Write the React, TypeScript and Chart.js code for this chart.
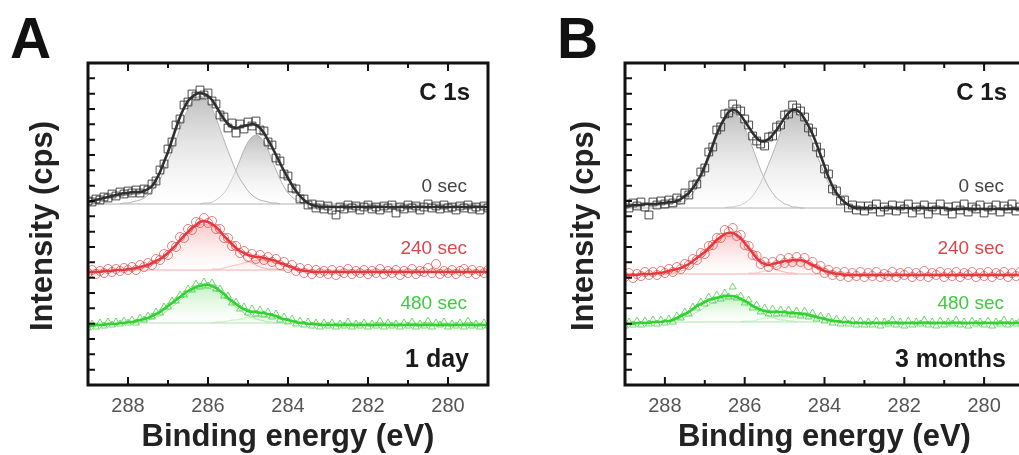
import { useEffect, useRef } from "react";
import { Chart, registerables } from "chart.js";

Chart.register(...registerables);

// ---------- axis data ----------
const ENERGY = [
  289.0, 288.9, 288.8, 288.7, 288.6, 288.5, 288.4, 288.3, 288.2, 288.1,
  288.0, 287.9, 287.8, 287.7, 287.6, 287.5, 287.4, 287.3, 287.2, 287.1,
  287.0, 286.9, 286.8, 286.7, 286.6, 286.5, 286.4, 286.3, 286.2, 286.1,
  286.0, 285.9, 285.8, 285.7, 285.6, 285.5, 285.4, 285.3, 285.2, 285.1,
  285.0, 284.9, 284.8, 284.7, 284.6, 284.5, 284.4, 284.3, 284.2, 284.1,
  284.0, 283.9, 283.8, 283.7, 283.6, 283.5, 283.4, 283.3, 283.2, 283.1,
  283.0, 282.9, 282.8, 282.7, 282.6, 282.5, 282.4, 282.3, 282.2, 282.1,
  282.0, 281.9, 281.8, 281.7, 281.6, 281.5, 281.4, 281.3, 281.2, 281.1,
  281.0, 280.9, 280.8, 280.7, 280.6, 280.5, 280.4, 280.3, 280.2, 280.1,
  280.0, 279.9, 279.8, 279.7, 279.6, 279.5, 279.4, 279.3, 279.2, 279.1,
  279.0,
];
const X_MIN = 279;
const X_MAX = 289;
const X_TICKS_MAJOR = [288, 286, 284, 282, 280];
const X_TICKS_MINOR = [287, 285, 283, 281, 279];
const X_TICK_LABELS = ["288", "286", "284", "282", "280"];
const Y_MIN = 0;
const Y_MAX = 322;
const Y_TICK_COUNT = 21;

// ---------- panel A (1 day) ----------
const A_0S = [
  184, 183, 186, 185, 188, 187, 191, 189, 193, 191,
  194, 192, 195, 192, 196, 195, 201, 204, 215, 221,
  236, 243, 260, 266, 280, 283, 291, 289, 295, 290,
  292, 284, 281, 270, 268, 257, 262, 252, 261, 256,
  263, 259, 264, 255, 254, 243, 240, 227, 224, 211,
  209, 197, 196, 186, 186, 180, 181, 177, 180, 176,
  179, 175, 170, 178, 176, 180, 177, 179, 175, 178,
  180, 176, 178, 175, 179, 177, 180, 172, 178, 176,
  180, 177, 179, 175, 178, 181, 177, 179, 176, 180,
  177, 178, 175, 179, 177, 180, 176, 178, 175, 179,
  177,
];
const A_0S_FIT = [
  183, 184, 185, 186, 187, 188, 189, 190, 191, 192,
  192, 193, 193, 193, 194, 196, 199, 205, 213, 223,
  233, 245, 257, 268, 277, 284, 288, 291, 292, 291,
  289, 285, 279, 272, 266, 261, 258, 257, 258, 259,
  260, 261, 260, 257, 252, 245, 238, 230, 222, 214,
  207, 200, 194, 189, 185, 182, 180, 179, 178, 178,
  178, 178, 178, 178, 178, 178, 178, 178, 178, 178,
  178, 178, 178, 178, 178, 178, 178, 178, 178, 178,
  178, 178, 178, 178, 178, 178, 178, 178, 178, 178,
  178, 178, 178, 178, 178, 178, 178, 178, 178, 178,
  178,
];
const A_0S_BASE = 181;
const A_0S_C1_FROM = 288.2;
const A_0S_C1 = [181, 182, 182, 183, 184, 185, 187, 190, 194, 200, 206, 214, 224, 234, 245, 256, 267, 276, 283, 287, 289, 287, 283, 276, 267, 256, 245, 234, 224, 214, 206, 200, 194, 190, 187, 185, 184, 183, 182, 182, 181];
const A_0S_C2_FROM = 286.2;
const A_0S_C2 = [181, 182, 182, 183, 185, 188, 192, 198, 206, 215, 225, 235, 243, 248, 250, 248, 243, 235, 225, 215, 206, 198, 192, 188, 185, 183, 182, 182, 181];

const A_240S = [
  112, 115, 111, 114, 112, 116, 113, 116, 114, 117,
  115, 118, 115, 120, 118, 122, 120, 126, 125, 131,
  130, 139, 138, 148, 147, 156, 155, 163, 162, 167,
  162, 164, 156, 156, 147, 147, 139, 139, 132, 134,
  128, 131, 126, 130, 125, 128, 123, 126, 120, 123,
  117, 120, 114, 117, 112, 116, 111, 115, 112, 114,
  111, 115, 110, 114, 112, 116, 111, 114, 112, 115,
  111, 114, 112, 116, 111, 114, 112, 115, 110, 114,
  112, 116, 111, 114, 113, 117, 112, 121, 111, 114,
  112, 115, 111, 114, 116, 112, 115, 111, 114, 112,
  115,
];
const A_240S_FIT = [
  113, 113, 113, 113, 114, 114, 114, 115, 115, 115,
  116, 116, 117, 118, 119, 120, 122, 124, 126, 129,
  132, 136, 140, 145, 149, 153, 157, 160, 163, 164,
  163, 161, 158, 154, 149, 145, 141, 137, 134, 132,
  130, 129, 128, 128, 127, 126, 125, 124, 122, 121,
  119, 118, 116, 115, 114, 114, 113, 113, 113, 113,
  113, 113, 113, 113, 113, 113, 113, 113, 113, 113,
  113, 113, 113, 113, 113, 113, 113, 113, 113, 113,
  113, 113, 113, 113, 113, 113, 113, 113, 113, 113,
  113, 113, 113, 113, 113, 113, 113, 113, 113, 113,
  113,
];
const A_240S_BASE = 115;
const A_240S_C1_FROM = 288.1;
const A_240S_C1 = [115, 115, 116, 116, 116, 117, 118, 120, 122, 124, 127, 131, 135, 139, 143, 148, 152, 156, 159, 160, 161, 160, 159, 156, 152, 148, 143, 139, 135, 131, 127, 124, 122, 120, 118, 117, 116, 116, 116, 115, 115];
const A_240S_C2_FROM = 285.9;
const A_240S_C2 = [116, 116, 116, 117, 118, 119, 120, 121, 122, 123, 124, 125, 125, 125, 124, 123, 122, 121, 120, 119, 118, 117, 116, 116, 116];

const A_480S = [
  57, 61, 58, 62, 59, 63, 60, 63, 61, 64,
  62, 65, 62, 67, 65, 69, 68, 73, 72, 78,
  78, 84, 84, 90, 90, 96, 95, 101, 98, 103,
  99, 102, 96, 96, 89, 89, 82, 83, 76, 78,
  72, 76, 71, 75, 70, 73, 68, 71, 65, 68,
  63, 66, 61, 64, 60, 63, 59, 62, 58, 62,
  59, 62, 58, 61, 59, 63, 58, 61, 59, 62,
  58, 61, 59, 64, 58, 62, 59, 61, 58, 62,
  59, 63, 58, 61, 59, 64, 58, 62, 60, 63,
  58, 61, 59, 62, 58, 64, 59, 61, 58, 62,
  59,
];
const A_480S_FIT = [
  59, 59, 60, 60, 60, 61, 61, 61, 62, 62,
  63, 63, 64, 65, 66, 67, 69, 71, 73, 76,
  79, 82, 85, 88, 91, 94, 96, 98, 99, 100,
  100, 99, 97, 94, 91, 87, 84, 81, 78, 76,
  74, 73, 73, 72, 72, 71, 70, 69, 67, 66,
  65, 64, 63, 62, 62, 61, 61, 61, 60, 60,
  60, 60, 60, 60, 60, 60, 60, 60, 60, 60,
  60, 60, 60, 60, 60, 60, 60, 60, 60, 60,
  60, 60, 60, 60, 60, 60, 60, 60, 60, 60,
  60, 60, 60, 60, 60, 60, 60, 60, 60, 60,
  60,
];
const A_480S_BASE = 62;
const A_480S_C1_FROM = 288.1;
const A_480S_C1 = [62, 62, 62, 63, 63, 64, 65, 66, 68, 69, 72, 75, 78, 81, 85, 88, 91, 94, 96, 97, 98, 97, 96, 94, 91, 88, 85, 81, 78, 75, 72, 69, 68, 66, 65, 64, 63, 63, 62, 62, 62];
const A_480S_C2_FROM = 285.9;
const A_480S_C2 = [62, 63, 63, 63, 64, 65, 65, 66, 67, 68, 68, 69, 69, 69, 68, 68, 67, 66, 65, 65, 64, 63, 63, 63, 62];

// ---------- panel B (3 months) ----------
const B_0S = [
  181, 177, 182, 179, 183, 178, 170, 183, 180, 184,
  181, 185, 182, 187, 185, 192, 190, 200, 201, 213,
  217, 233, 238, 255, 258, 271, 272, 281, 276, 274,
  266, 260, 249, 244, 241, 239, 248, 249, 258, 260,
  270, 271, 280, 277, 274, 268, 257, 253, 238, 232,
  216, 211, 196, 194, 184, 185, 177, 180, 175, 179,
  174, 179, 176, 181, 173, 178, 175, 180, 174, 179,
  176, 181, 172, 178, 175, 180, 171, 178, 175, 181,
  174, 178, 171, 179, 175, 181, 173, 178, 176, 180,
  172, 178, 175, 180, 173, 179, 176, 181, 174, 178,
  176,
];
const B_0S_FIT = [
  179, 179, 180, 180, 180, 181, 181, 181, 181, 182,
  182, 183, 183, 184, 186, 189, 192, 197, 203, 210,
  219, 229, 240, 251, 260, 267, 273, 275, 274, 270,
  264, 258, 252, 247, 244, 244, 246, 250, 255, 261,
  267, 272, 275, 275, 272, 266, 259, 251, 241, 230,
  219, 208, 199, 192, 187, 183, 180, 178, 177, 177,
  177, 177, 177, 177, 177, 177, 177, 177, 177, 177,
  177, 177, 177, 177, 177, 177, 177, 177, 177, 177,
  177, 176, 176, 176, 176, 176, 176, 176, 176, 176,
  176, 176, 176, 176, 176, 176, 176, 176, 176, 176,
  176,
];
const B_0S_BASE = 177;
const B_0S_C1_FROM = 288.1;
const B_0S_C1 = [177, 177, 178, 178, 180, 181, 184, 187, 192, 198, 206, 215, 226, 237, 248, 257, 265, 270, 272, 270, 265, 257, 248, 237, 226, 215, 206, 198, 192, 187, 184, 181, 180, 178, 178, 177, 177];
const B_0S_C2_FROM = 286.5;
const B_0S_C2 = [177, 178, 178, 179, 180, 182, 185, 189, 195, 202, 211, 221, 231, 242, 253, 262, 268, 272, 272, 268, 262, 253, 242, 231, 221, 211, 202, 195, 189, 185, 182, 180, 179, 178, 178, 177];

const B_240S = [
  108, 112, 107, 111, 109, 113, 110, 113, 110, 114,
  112, 116, 113, 118, 116, 121, 120, 126, 125, 132,
  131, 139, 140, 147, 147, 155, 153, 157, 149, 150,
  140, 139, 130, 129, 121, 123, 118, 123, 120, 126,
  122, 127, 123, 128, 123, 127, 120, 123, 116, 119,
  112, 115, 110, 113, 109, 113, 108, 112, 109, 113,
  108, 112, 109, 113, 108, 111, 109, 113, 108, 112,
  110, 113, 108, 112, 109, 114, 108, 112, 110, 113,
  108, 112, 109, 113, 108, 112, 110, 113, 108, 112,
  109, 113, 108, 112, 110, 113, 108, 112, 109, 113,
  110,
];
const B_240S_FIT = [
  110, 110, 110, 110, 111, 111, 111, 111, 112, 112,
  113, 114, 115, 116, 117, 119, 121, 124, 127, 130,
  133, 137, 141, 145, 148, 151, 152, 152, 150, 147,
  142, 137, 132, 127, 123, 121, 120, 121, 122, 123,
  124, 124, 125, 125, 125, 124, 122, 120, 118, 116,
  114, 113, 112, 111, 111, 110, 110, 110, 110, 110,
  110, 110, 110, 110, 110, 110, 110, 110, 110, 110,
  110, 110, 110, 110, 110, 110, 110, 110, 110, 110,
  110, 110, 110, 110, 110, 110, 110, 110, 110, 110,
  110, 110, 110, 110, 110, 110, 110, 110, 110, 110,
  110,
];
const B_240S_BASE = 111;
const B_240S_C1_FROM = 288.0;
const B_240S_C1 = [111, 112, 112, 113, 114, 115, 117, 120, 123, 126, 130, 135, 139, 143, 146, 149, 150, 150, 149, 146, 143, 139, 135, 130, 126, 123, 120, 117, 115, 114, 113, 112, 112, 111];
const B_240S_C2_FROM = 285.9;
const B_240S_C2 = [112, 112, 112, 113, 114, 115, 117, 118, 120, 121, 123, 123, 124, 124, 123, 123, 121, 120, 118, 117, 115, 114, 113, 112, 112, 112];

const B_480S = [
  59, 63, 60, 64, 60, 64, 61, 65, 61, 65,
  62, 66, 63, 69, 67, 73, 71, 78, 77, 83,
  81, 88, 84, 90, 86, 92, 88, 98, 87, 89,
  82, 85, 77, 80, 73, 77, 71, 76, 71, 75,
  71, 75, 70, 74, 69, 74, 68, 72, 66, 69,
  64, 68, 62, 66, 61, 65, 61, 64, 60, 64,
  60, 63, 60, 64, 59, 63, 61, 65, 60, 63,
  59, 64, 60, 63, 61, 65, 60, 63, 59, 64,
  60, 63, 61, 65, 60, 63, 59, 64, 61, 63,
  60, 64, 59, 63, 61, 65, 60, 63, 61, 64,
  60,
];
const B_480S_FIT = [
  61, 61, 61, 62, 62, 62, 62, 63, 63, 63,
  64, 64, 65, 67, 69, 71, 73, 76, 79, 81,
  83, 85, 86, 87, 88, 89, 89, 89, 88, 86,
  84, 82, 79, 77, 75, 74, 73, 73, 73, 73,
  73, 72, 72, 72, 71, 71, 70, 69, 68, 67,
  66, 65, 64, 64, 63, 63, 63, 62, 62, 62,
  62, 62, 62, 62, 62, 62, 62, 62, 62, 62,
  62, 62, 62, 62, 62, 62, 62, 62, 62, 62,
  62, 62, 62, 62, 62, 62, 62, 62, 62, 62,
  62, 62, 62, 62, 62, 62, 62, 62, 62, 62,
  62,
];
const B_480S_BASE = 63;
const B_480S_C1_FROM = 288.1;
const B_480S_C1 = [63, 64, 64, 65, 65, 66, 68, 69, 71, 73, 75, 78, 80, 82, 84, 86, 87, 87, 87, 86, 84, 82, 80, 78, 75, 73, 71, 69, 68, 66, 65, 65, 64, 64, 63];
const B_480S_C2_FROM = 286.1;
const B_480S_C2 = [63, 64, 64, 64, 65, 66, 67, 67, 68, 69, 70, 70, 71, 71, 71, 70, 70, 69, 68, 67, 67, 66, 65, 64, 64, 64, 63];

// ---------- styles ----------
type Style = {
  marker: string;
  radius: number;
  markerColor: string;
  lineColor: string;
  compLine: string;
  fillTop: string;
  fillBottom: string;
  labelColor: string;
};
const STYLE_0S: Style = {
  marker: "rect",
  radius: 5.5,
  markerColor: "rgba(45,45,45,0.85)",
  lineColor: "#2f2f2f",
  compLine: "#b4b4b4",
  fillTop: "rgba(175,175,175,0.8)",
  fillBottom: "rgba(255,255,255,0.3)",
  labelColor: "#444444",
};
const STYLE_240S: Style = {
  marker: "circle",
  radius: 4.5,
  markerColor: "rgba(222,70,70,0.7)",
  lineColor: "#e6383e",
  compLine: "#f2a9a9",
  fillTop: "rgba(246,170,170,0.65)",
  fillBottom: "rgba(255,255,255,0.3)",
  labelColor: "#d8474c",
};
const STYLE_480S: Style = {
  marker: "triangle",
  radius: 4,
  markerColor: "rgba(50,200,50,0.7)",
  lineColor: "#2fd22f",
  compLine: "#a9e8a9",
  fillTop: "rgba(165,235,165,0.65)",
  fillBottom: "rgba(255,255,255,0.3)",
  labelColor: "#3dcc3d",
};

type Comp = { from: number; values: number[] };
type Spectrum = { label: string; data: number[]; fit: number[]; base: number; comps: Comp[]; style: Style; labelBaseline: number };

const PANEL_A: Spectrum[] = [
  { label: "0 sec", data: A_0S, fit: A_0S_FIT, base: A_0S_BASE, comps: [{ from: A_0S_C1_FROM, values: A_0S_C1 }, { from: A_0S_C2_FROM, values: A_0S_C2 }], style: STYLE_0S, labelBaseline: 192 },
  { label: "240 sec", data: A_240S, fit: A_240S_FIT, base: A_240S_BASE, comps: [{ from: A_240S_C1_FROM, values: A_240S_C1 }, { from: A_240S_C2_FROM, values: A_240S_C2 }], style: STYLE_240S, labelBaseline: 254 },
  { label: "480 sec", data: A_480S, fit: A_480S_FIT, base: A_480S_BASE, comps: [{ from: A_480S_C1_FROM, values: A_480S_C1 }, { from: A_480S_C2_FROM, values: A_480S_C2 }], style: STYLE_480S, labelBaseline: 309 },
];
const PANEL_B: Spectrum[] = [
  { label: "0 sec", data: B_0S, fit: B_0S_FIT, base: B_0S_BASE, comps: [{ from: B_0S_C1_FROM, values: B_0S_C1 }, { from: B_0S_C2_FROM, values: B_0S_C2 }], style: STYLE_0S, labelBaseline: 192 },
  { label: "240 sec", data: B_240S, fit: B_240S_FIT, base: B_240S_BASE, comps: [{ from: B_240S_C1_FROM, values: B_240S_C1 }, { from: B_240S_C2_FROM, values: B_240S_C2 }], style: STYLE_240S, labelBaseline: 254 },
  { label: "480 sec", data: B_480S, fit: B_480S_FIT, base: B_480S_BASE, comps: [{ from: B_480S_C1_FROM, values: B_480S_C1 }, { from: B_480S_C2_FROM, values: B_480S_C2 }], style: STYLE_480S, labelBaseline: 309 },
];

type PanelCfg = {
  letter: string;
  age: string;
  spectra: Spectrum[];
  left: number;
  width: number;
  padLeft: number;
  padRight: number;
  letterDx: number;
  yTitleDx: number;
};

const FONT = '"Liberation Sans", Arial, sans-serif';

function pts(from: number, values: number[]) {
  const i0 = ENERGY.indexOf(from);
  return values.map((y, i) => ({ x: ENERGY[i0 + i], y }));
}

function buildDatasets(spectra: Spectrum[]) {
  const sets: any[] = [];
  spectra.forEach((s) => {
    s.comps.forEach((c) => {
      const peak = Math.max(...c.values);
      sets.push({
        data: pts(c.from, c.values),
        showLine: true,
        borderColor: s.style.compLine,
        borderWidth: 1,
        pointRadius: 0,
        tension: 0.3,
        fill: { value: s.base },
        order: 40,
        backgroundColor: (ctx: any) => {
          const chart = ctx.chart;
          if (!chart.chartArea) return "rgba(0,0,0,0)";
          const ys = chart.scales.y;
          const g = chart.ctx.createLinearGradient(0, ys.getPixelForValue(peak), 0, ys.getPixelForValue(s.base));
          g.addColorStop(0, s.style.fillTop);
          g.addColorStop(1, s.style.fillBottom);
          return g;
        },
      });
    });
    sets.push({
      data: [{ x: X_MAX, y: s.base }, { x: X_MIN, y: s.base }],
      showLine: true,
      borderColor: s.style.compLine,
      borderWidth: 1,
      pointRadius: 0,
      fill: false,
      order: 35,
    });
    sets.push({
      data: pts(ENERGY[0], s.data),
      showLine: false,
      pointStyle: s.style.marker,
      pointRadius: s.style.radius,
      pointBorderColor: s.style.markerColor,
      pointBackgroundColor: "rgba(0,0,0,0)",
      pointBorderWidth: 1,
      order: 20,
    });
    sets.push({
      data: pts(ENERGY[0], s.fit),
      showLine: true,
      borderColor: s.style.lineColor,
      borderWidth: 2.6,
      pointRadius: 0,
      tension: 0.3,
      fill: false,
      order: 10,
    });
  });
  return sets;
}

function decorPlugin(p: PanelCfg) {
  return {
    id: "decor" + p.letter,
    afterDatasetsDraw(chart: any) {
      const { ctx, chartArea: a, scales } = chart;
      const xs = scales.x;
      const ys = scales.y;
      ctx.save();
      ctx.strokeStyle = "#111";
      ctx.lineWidth = 2;
      ctx.beginPath();
      X_TICKS_MAJOR.forEach((v) => {
        const px = xs.getPixelForValue(v);
        ctx.moveTo(px, a.bottom);
        ctx.lineTo(px, a.bottom - 8);
        ctx.moveTo(px, a.top);
        ctx.lineTo(px, a.top + 8);
      });
      X_TICKS_MINOR.forEach((v) => {
        const px = xs.getPixelForValue(v);
        ctx.moveTo(px, a.bottom);
        ctx.lineTo(px, a.bottom - 5);
        ctx.moveTo(px, a.top);
        ctx.lineTo(px, a.top + 5);
      });
      for (let k = 1; k < Y_TICK_COUNT; k++) {
        const py = ys.getPixelForValue(Y_MIN + (k * (Y_MAX - Y_MIN)) / Y_TICK_COUNT);
        ctx.moveTo(a.left, py);
        ctx.lineTo(a.left + 7, py);
      }
      ctx.stroke();
      ctx.lineWidth = 3;
      ctx.strokeRect(a.left, a.top, a.right - a.left, a.bottom - a.top);

      // tick labels
      ctx.fillStyle = "#555";
      ctx.font = "20px " + FONT;
      ctx.textAlign = "center";
      ctx.textBaseline = "alphabetic";
      X_TICKS_MAJOR.forEach((v, i) => {
        ctx.fillText(X_TICK_LABELS[i], xs.getPixelForValue(v), a.bottom + 27);
      });
      // axis titles
      ctx.fillStyle = "#222";
      ctx.font = "bold 31px " + FONT;
      ctx.fillText("Binding energy (eV)", (a.left + a.right) / 2 + 0, a.bottom + 61);
      ctx.save();
      ctx.translate(a.left + p.yTitleDx, (a.top + a.bottom) / 2 + 2);
      ctx.rotate(-Math.PI / 2);
      ctx.fillText("Intensity (cps)", 0, 0);
      ctx.restore();

      // panel letter
      ctx.textAlign = "left";
      ctx.fillStyle = "#111";
      ctx.font = "bold 57px " + FONT;
      ctx.fillText(p.letter, a.left + p.letterDx, 58);

      // annotations
      ctx.textAlign = "right";
      ctx.font = "bold 24px " + FONT;
      ctx.fillStyle = "#1a1a1a";
      ctx.fillText("C 1s", a.left + 382, 100);
      ctx.font = "bold 25px " + FONT;
      ctx.fillText(p.age, a.left + 381, 367);
      ctx.font = "19px " + FONT;
      p.spectra.forEach((s) => {
        ctx.fillStyle = s.style.labelColor;
        ctx.fillText(s.label, a.left + 379, s.labelBaseline);
      });
      ctx.restore();
    },
  };
}

const PANELS: PanelCfg[] = [
  { letter: "A", age: "1 day", spectra: PANEL_A, left: 0, width: 510, padLeft: 88, padRight: 22, letterDx: -78, yTitleDx: -36 },
  { letter: "B", age: "3 months", spectra: PANEL_B, left: 510, width: 536, padLeft: 115, padRight: 22, letterDx: -68, yTitleDx: -32 },
];

function Panel({ cfg }: { cfg: PanelCfg }) {
  const ref = useRef<HTMLCanvasElement | null>(null);
  useEffect(() => {
    if (!ref.current) return;
    const chart = new Chart(ref.current, {
      type: "line",
      data: { datasets: buildDatasets(cfg.spectra) },
      options: {
        responsive: false,
        maintainAspectRatio: false,
        animation: false,
        devicePixelRatio: 1,
        events: [],
        layout: { padding: { left: cfg.padLeft, right: cfg.padRight, top: 63, bottom: 70 } },
        plugins: { legend: { display: false }, tooltip: { enabled: false } },
        scales: {
          x: { type: "linear", min: X_MIN, max: X_MAX, reverse: true, display: false },
          y: { type: "linear", min: Y_MIN, max: Y_MAX, display: false },
        },
      } as any,
      plugins: [decorPlugin(cfg)],
    });
    return () => chart.destroy();
  }, [cfg]);
  return (
    <canvas
      ref={ref}
      width={cfg.width}
      height={455}
      style={{ position: "absolute", left: cfg.left, top: 0, width: cfg.width, height: 455 }}
    />
  );
}

export default function App() {
  return (
    <div style={{ position: "fixed", left: 0, top: 0, width: 1019, height: 455, overflow: "hidden", background: "#fff" }}>
      {PANELS.map((p) => (
        <Panel key={p.letter} cfg={p} />
      ))}
    </div>
  );
}
